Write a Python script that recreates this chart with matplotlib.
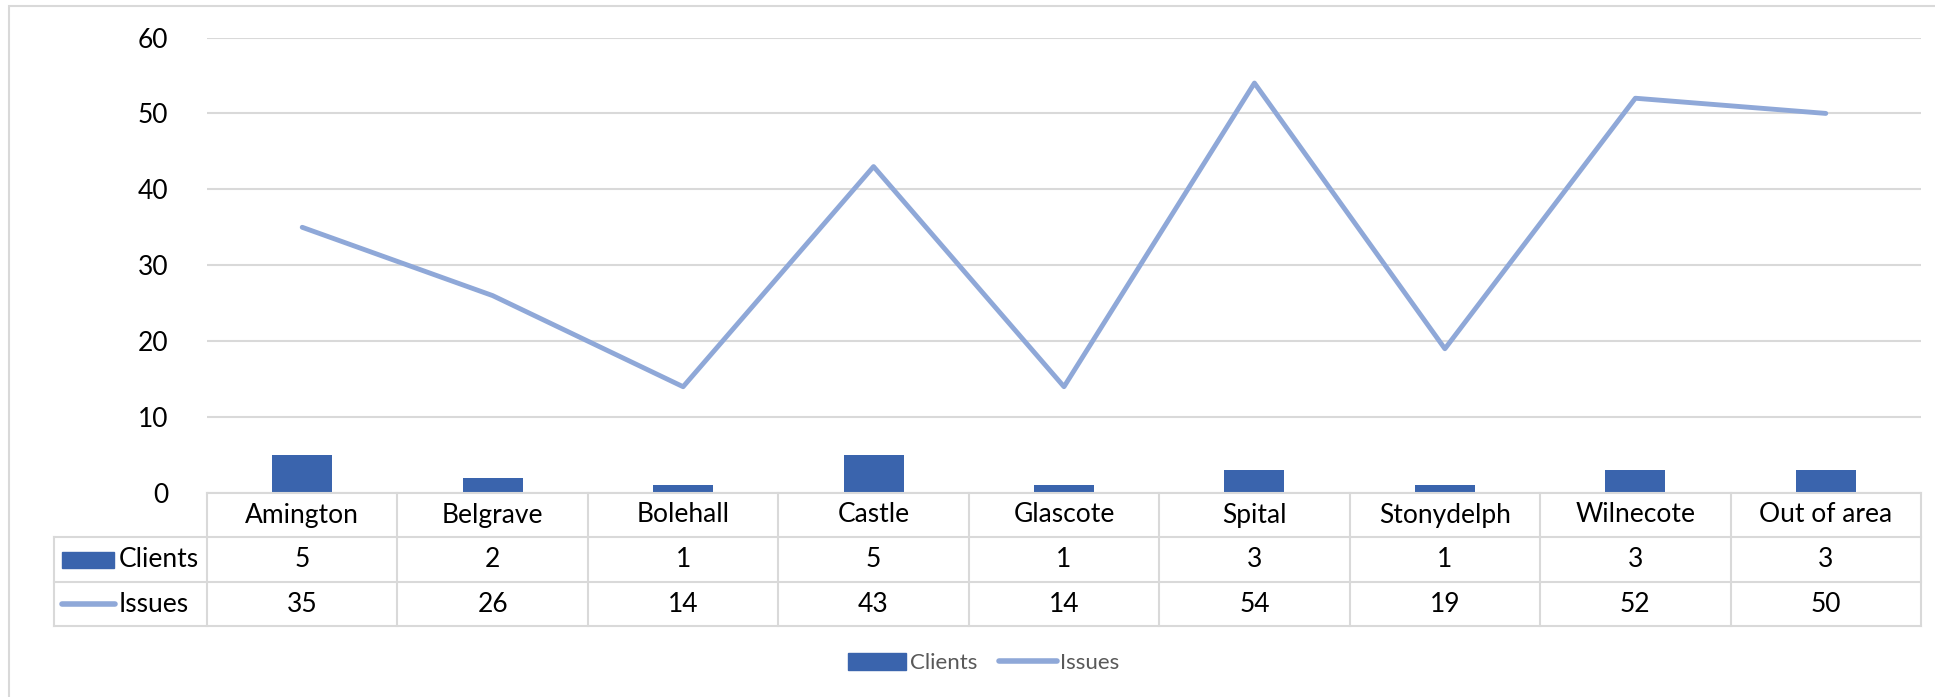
import matplotlib.pyplot as plt
from matplotlib.lines import Line2D
from matplotlib.patches import Patch, Rectangle

categories = ["Amington", "Belgrave", "Bolehall", "Castle", "Glascote",
              "Spital", "Stonydelph", "Wilnecote", "Out of area"]
clients = [5, 2, 1, 5, 1, 3, 1, 3, 3]
issues = [35, 26, 14, 43, 14, 54, 19, 52, 50]

BAR = "#3A64AD"
LINE = "#8FA8D8"
GRID = "#D9D9D9"
FONT = "Lato"
FS = 19

W, H = 1935, 697
fig = plt.figure(figsize=(W / 100, H / 100), dpi=100)
plt.rcParams['font.family'] = [FONT, 'DejaVu Sans']


def fx(px):
    return px / W


def fy(py):
    return 1 - py / H


left, right, top, bottom = 207, 1921, 37.5, 493
ax = fig.add_axes([fx(left), fy(bottom), fx(right) - fx(left), fy(top) - fy(bottom)])

x = list(range(len(categories)))
ax.bar(x, clients, width=0.315, color=BAR, zorder=2)
ax.plot(x, issues, color=LINE, linewidth=3.5, solid_capstyle='round', solid_joinstyle='round', zorder=3)
ax.set_xlim(-0.5, len(categories) - 0.5)
ax.set_ylim(0, 60)
ax.set_yticks(range(0, 61, 10))
ax.yaxis.grid(True, color=GRID, linewidth=1.5, zorder=0)
ax.set_xticks([])
ax.tick_params(axis='y', length=0, pad=28, labelsize=FS)
for s in ax.spines.values():
    s.set_visible(False)

# data table below the plot
rows = [493, 537, 582, 626]
tleft = 54
col_w = (right - left) / len(categories)
lw = 1.5
for i, r in enumerate(rows):
    x0 = left if i == 0 else tleft
    fig.add_artist(Line2D([fx(x0), fx(right)], [fy(r), fy(r)], color=GRID, lw=lw))
fig.add_artist(Line2D([fx(tleft), fx(tleft)], [fy(rows[1]), fy(rows[3])], color=GRID, lw=lw))
for j in range(len(categories) + 1):
    xx = left + j * col_w
    fig.add_artist(Line2D([fx(xx), fx(xx)], [fy(rows[0]), fy(rows[3])], color=GRID, lw=lw))

for j, cat in enumerate(categories):
    cx = left + (j + 0.5) * col_w
    fig.text(fx(cx), fy((rows[0] + rows[1]) / 2), cat, ha='center', va='center', fontsize=FS)
    fig.text(fx(cx), fy((rows[1] + rows[2]) / 2), str(clients[j]), ha='center', va='center', fontsize=FS)
    fig.text(fx(cx), fy((rows[2] + rows[3]) / 2), str(issues[j]), ha='center', va='center', fontsize=FS)

# series keys in table
ym = (rows[1] + rows[2]) / 2
fig.add_artist(Rectangle((fx(62), fy(ym + 8)), fx(114) - fx(62), fy(ym - 8) - fy(ym + 8), color=BAR))
fig.text(fx(119), fy(ym), "Clients", ha='left', va='center', fontsize=FS)
ym = (rows[2] + rows[3]) / 2
fig.add_artist(Line2D([fx(62), fx(115)], [fy(ym), fy(ym)], color=LINE, lw=4, solid_capstyle='round'))
fig.text(fx(119), fy(ym), "Issues", ha='left', va='center', fontsize=FS)

# legend
handles = [Patch(color=BAR, label="Clients"),
           Line2D([], [], color=LINE, lw=4, solid_capstyle='round', label="Issues")]
leg = fig.legend(handles=handles, loc='center', bbox_to_anchor=(fx(984), fy(663)), ncol=2,
                 frameon=False, fontsize=16, handlelength=2.6, handleheight=0.8,
                 handletextpad=0.15, columnspacing=1.0)
for t in leg.get_texts():
    t.set_color("#595959")

# chart border
fig.add_artist(Rectangle((fx(9), fy(H + 5)), 1, fy(6) - fy(H + 5), fill=False, edgecolor=GRID, lw=1.5))

fig.savefig("out.png", dpi=100, facecolor='white')
